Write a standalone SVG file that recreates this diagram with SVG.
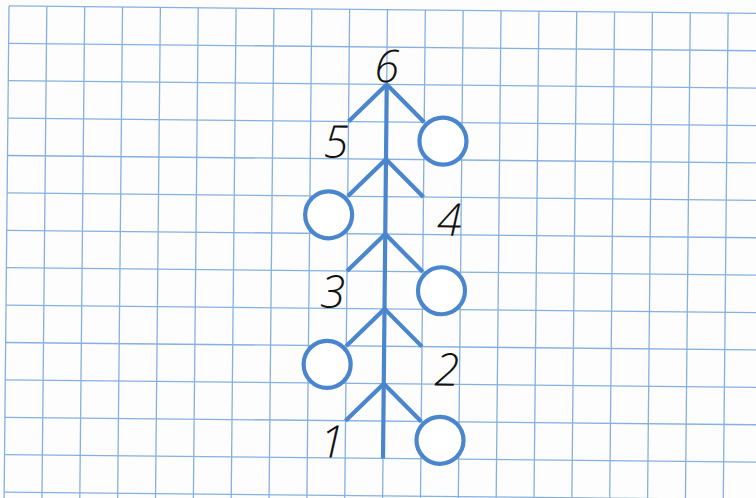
<svg xmlns="http://www.w3.org/2000/svg" width="756" height="498" viewBox="0 0 756 498">
<style>
.g{stroke:#86b0e0;stroke-width:1.3;fill:none}
.br{stroke:#4a86cd;stroke-width:4.2;fill:none;stroke-linejoin:miter}
.c{stroke:#4a86cd;stroke-width:4.2;fill:#ffffff}
.t{font-family:"Open Sans","Liberation Sans",Arial,sans-serif;font-style:italic;font-weight:300;font-size:45px;fill:#111;text-anchor:middle}
</style>
<rect x="0" y="0" width="756" height="498" fill="#fdfdfd"/>
<g transform="rotate(0.57 378 249)">
<g id="grid">
<path class="g" d="M6.6 9.6V520M44.45 9.6V520M82.3 9.6V520M120.15 9.6V520M158 9.6V520M195.85 9.6V520M233.7 9.6V520M271.55 9.6V520M309.4 9.6V520M347.25 9.6V520M385.1 9.6V520M422.95 9.6V520M460.8 9.6V520M498.65 9.6V520M536.5 9.6V520M574.35 9.6V520M612.2 9.6V520M650.05 9.6V520M687.9 9.6V520M725.75 9.6V520M763.6 9.6V520"/>
<path class="g" d="M6.6 9.6H780M6.6 47H780M6.6 84.4H780M6.6 121.8H780M6.6 159.2H780M6.6 196.6H780M6.6 234H780M6.6 271.4H780M6.6 308.8H780M6.6 346.2H780M6.6 383.6H780M6.6 421H780M6.6 458.4H780M6.6 495.8H780"/>
</g>
<g id="connectors">
<path class="br" d="M385.1 84.4V458.4"/>
<path class="br" d="M347.25 121.8L385.1 84.4L422.95 121.8"/>
<path class="br" d="M347.25 196.6L385.1 159.2L422.95 196.6"/>
<path class="br" d="M347.25 271.4L385.1 234L422.95 271.4"/>
<path class="br" d="M347.25 346.2L385.1 308.8L422.95 346.2"/>
<path class="br" d="M347.25 421L385.1 383.6L422.95 421"/>
</g>
<g id="circle-a"><circle class="c" cx="441.9" cy="140.5" r="23.5"/></g>
<g id="circle-b"><circle class="c" cx="328.3" cy="215.3" r="23.5"/></g>
<g id="circle-c"><circle class="c" cx="441.9" cy="290.1" r="23.5"/></g>
<g id="circle-d"><circle class="c" cx="328.3" cy="364.9" r="23.5"/></g>
<g id="circle-e"><circle class="c" cx="441.9" cy="439.7" r="23.5"/></g>
<g id="label-6"><text class="t" x="385" y="82">6</text></g>
<g id="label-5"><text class="t" x="335" y="158">5</text></g>
<g id="label-4"><text class="t" x="449" y="235">4</text></g>
<g id="label-3"><text class="t" x="333" y="308">3</text></g>
<g id="label-2"><text class="t" x="448" y="385">2</text></g>
<g id="label-1"><text class="t" x="334" y="458">1</text></g>
</g>
</svg>
